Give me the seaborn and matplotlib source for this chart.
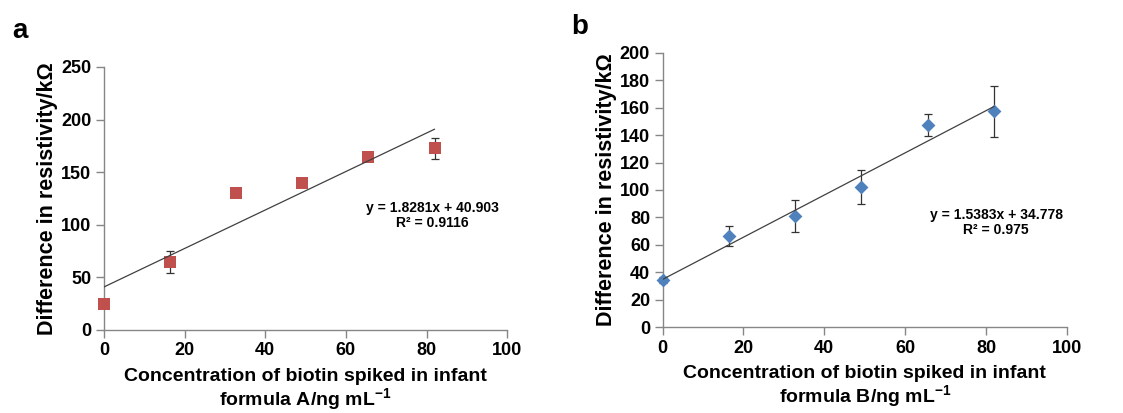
import numpy as np
import pandas as pd
import matplotlib
matplotlib.use("Agg")
import matplotlib.pyplot as plt
import seaborn as sns

sns.set_theme(style="white")
plt.rcParams['font.family'] = ['Liberation Sans', 'DejaVu Sans']
plt.rcParams['font.weight'] = 'bold'
plt.rcParams['mathtext.default'] = 'regular'
plt.rcParams['text.color'] = 'black'
plt.rcParams['axes.labelcolor'] = 'black'

# Panel a: formula A
conc_a = [0, 16.4, 32.8, 49.2, 65.6, 82]
resist_a = [24.5, 64.7, 129.8, 139.6, 164.7, 172.5]
err_a = [2, 10.5, 3, 3, 3.5, 10.2]
slope_a, icpt_a = 1.8281, 40.903
eq_a = ["y = 1.8281x + 40.903", "R² = 0.9116"]

# Panel b: formula B
conc_b = [0, 16.4, 32.8, 49.2, 65.6, 82]
resist_b = [34.5, 66.5, 81, 102, 147.5, 157.5]
err_b = [2, 7.5, 12, 12.5, 8, 18.5]
slope_b, icpt_b = 1.5383, 34.778
eq_b = ["y = 1.5383x + 34.778", "R² = 0.975"]

RED = "#C0504D"
BLUE = "#4F81BD"
SPINE = "#868686"


def draw_panel(ax, x, y, err, slope, icpt, eq, color, marker, msize,
               ymax, ystep, formula, eq_pos):
    df = pd.DataFrame({'x': x, 'y': y, 'err': err})
    fit = pd.DataFrame({'x': [min(x), max(x)]})
    fit['y'] = slope * fit['x'] + icpt

    eb = ax.errorbar(df['x'], df['y'], yerr=df['err'], fmt='none', ecolor='#333333',
                     elinewidth=0.9, capsize=3.2, capthick=0.9, zorder=2)
    for art in eb.lines[1] + eb.lines[2]:
        art.set_clip_on(False)
    sns.scatterplot(data=df, x='x', y='y', ax=ax, color=color, marker=marker,
                    s=msize, edgecolor=color, linewidth=0, zorder=3, legend=False,
                    clip_on=False)
    sns.lineplot(data=fit, x='x', y='y', ax=ax, color='#404040', linewidth=0.9, zorder=4)

    ax.set_xlim(0, 100)
    ax.set_ylim(0, ymax)
    ax.set_xticks(np.arange(0, 101, 20))
    ax.set_yticks(np.arange(0, ymax + 1, ystep))
    for side in ['top', 'right']:
        ax.spines[side].set_visible(False)
    for side in ['left', 'bottom']:
        ax.spines[side].set_color(SPINE)
        ax.spines[side].set_linewidth(1.0)
    ax.tick_params(axis='both', which='major', direction='out', length=6, width=1,
                   color=SPINE, labelcolor='black', labelsize=13, pad=3,
                   bottom=True, left=True)
    for lab in ax.get_xticklabels() + ax.get_yticklabels():
        lab.set_fontweight('bold')
    ax.set_xlabel("Concentration of biotin spiked in infant\n"
                  f"formula {formula}/ng mL$^{{-1}}$",
                  fontsize=14, fontweight='bold', labelpad=6, linespacing=1.08)
    ax.set_ylabel("Difference in resistivity/kΩ", fontsize=15.5, fontweight='bold',
                  labelpad=2)
    ax.text(eq_pos[0], eq_pos[1], "\n".join(eq), ha='center', va='center',
            fontsize=10, fontweight='bold', linespacing=1.1, multialignment='center')


fig = plt.figure(figsize=(11.23, 4.13), dpi=100)
ax1 = fig.add_axes([0.0926, 0.201, 0.359, 0.637])
ax2 = fig.add_axes([0.590, 0.208, 0.360, 0.664])

draw_panel(ax1, conc_a, resist_a, err_a, slope_a, icpt_a, eq_a, RED, 's', 70,
           250, 50, 'A', (81.5, 109))
draw_panel(ax2, conc_b, resist_b, err_b, slope_b, icpt_b, eq_b, BLUE, 'D', 50,
           200, 20, 'B', (82.5, 76))

fig.text(0.011, 0.925, "a", fontsize=20, fontweight='bold', va='center')
fig.text(0.509, 0.935, "b", fontsize=20, fontweight='bold', va='center')

fig.savefig("out.png", dpi=100)
plt.close(fig)
